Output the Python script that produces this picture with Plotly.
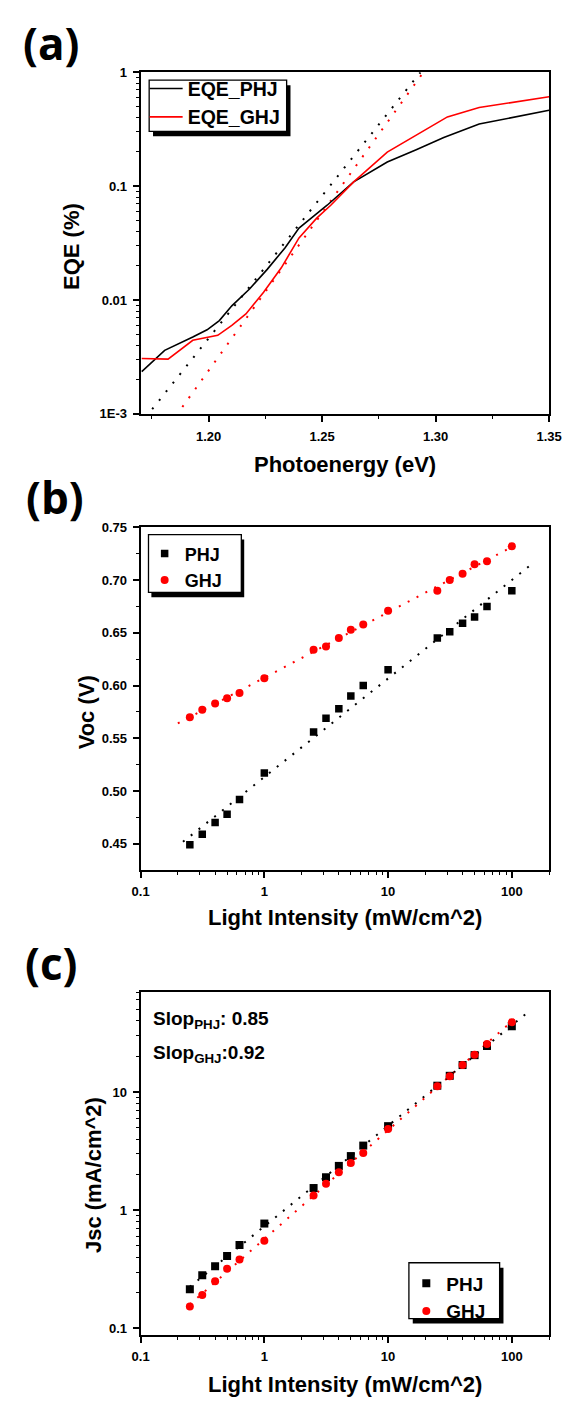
import numpy as np
import plotly.graph_objects as go

W, H = 579, 1407

# ---------------- data ----------------
# (a) EQE spectra
eqe_energy_phj = [1.1705, 1.1806, 1.193, 1.1993, 1.2047, 1.2102, 1.218, 1.2258, 1.2336,
                  1.2398, 1.246, 1.2522, 1.2639, 1.2787, 1.2912, 1.3036, 1.3192, 1.3331, 1.35]
eqe_phj = [0.00235, 0.00362, 0.00473, 0.00548, 0.0066, 0.0089, 0.0125, 0.0186, 0.0287,
           0.0429, 0.054, 0.068, 0.109, 0.163, 0.208, 0.268, 0.351, 0.40, 0.464]
eqe_energy_ghj = [1.1705, 1.1821, 1.193, 1.204, 1.2102, 1.2164, 1.2242, 1.232, 1.2398,
                  1.2476, 1.2538, 1.2639, 1.2787, 1.2912, 1.3052, 1.3192, 1.35]
eqe_ghj = [0.00307, 0.00303, 0.00443, 0.0049, 0.006, 0.00755, 0.0117, 0.0192, 0.0351,
           0.0524, 0.068, 0.109, 0.199, 0.278, 0.406, 0.49, 0.61]
# exponential tail fits (end points)
tail_energy_phj = [1.1751, 1.2933]
tail_eqe_phj = [0.0011, 1.0]
tail_energy_ghj = [1.1884, 1.2946]
tail_eqe_ghj = [0.00115, 1.0]

# (b), (c) light-intensity dependence
intensity = [0.25, 0.315, 0.4, 0.5, 0.63, 1, 2.5, 3.15, 4, 5, 6.3, 10, 25, 31.5, 40, 50, 63, 100]
voc_phj = [0.449, 0.459, 0.470, 0.478, 0.492, 0.517, 0.556, 0.569, 0.578, 0.590, 0.600,
           0.615, 0.645, 0.651, 0.659, 0.665, 0.675, 0.690]
voc_ghj = [0.570, 0.577, 0.583, 0.588, 0.593, 0.607, 0.634, 0.637, 0.645, 0.653, 0.658,
           0.671, 0.690, 0.700, 0.706, 0.715, 0.718, 0.732]
jsc_phj = [0.214, 0.282, 0.335, 0.409, 0.508, 0.771, 1.54, 1.90, 2.37, 2.87, 3.52,
           5.14, 11.3, 13.7, 16.9, 20.5, 24.5, 35.9]
jsc_ghj = [0.153, 0.192, 0.251, 0.32, 0.383, 0.552, 1.33, 1.67, 2.09, 2.51, 3.04,
           4.86, 11.2, 13.6, 16.9, 20.6, 25.5, 38.8]
slope_phj = 0.85
slope_ghj = 0.92
voc_fit_range_phj = [0.22, 140]
voc_fit_range_ghj = [0.2, 100]
jsc_fit_range_phj = [0.25, 130]
jsc_fit_range_ghj = [0.25, 110]

# ---------------- helpers ----------------
def px(x):
    return x / W


def py(y):
    return 1 - y / H


BLACK = "#000000"
RED = "#ff0000"
FONT = "Liberation Sans, Arial, sans-serif"
tick_font = dict(family=FONT, size=13, color=BLACK, weight="bold")


def decade_minors(lo_exp, hi_exp, upper=None):
    vals = []
    for e in range(lo_exp, hi_exp + 1):
        for m in range(2, 10):
            v = m * 10.0 ** e
            if upper is None or v <= upper:
                vals.append(v)
    return vals


def base_axis(**kw):
    d = dict(showline=True, linewidth=2, linecolor=BLACK, mirror=True,
             ticks="outside", ticklen=6, tickwidth=1.5, tickcolor=BLACK,
             showgrid=False, zeroline=False, tickfont=tick_font,
             ticklabelstandoff=3)
    d.update(kw)
    return d


minor_style = dict(ticks="outside", ticklen=3, tickwidth=1.2, tickcolor=BLACK, showgrid=False)

fig = go.Figure()

# ---------------- (a) EQE ----------------
fig.add_trace(go.Scatter(x=tail_energy_phj, y=tail_eqe_phj, mode="lines",
                         line=dict(color=BLACK, width=2, dash="2px,9px"),
                         showlegend=False, xaxis="x", yaxis="y"))
fig.add_trace(go.Scatter(x=tail_energy_ghj, y=tail_eqe_ghj, mode="lines",
                         line=dict(color=RED, width=2, dash="2px,9px"),
                         showlegend=False, xaxis="x", yaxis="y"))
fig.add_trace(go.Scatter(x=eqe_energy_phj, y=eqe_phj, mode="lines", name="EQE_PHJ",
                         line=dict(color=BLACK, width=1.6), xaxis="x", yaxis="y",
                         legend="legend"))
fig.add_trace(go.Scatter(x=eqe_energy_ghj, y=eqe_ghj, mode="lines", name="EQE_GHJ",
                         line=dict(color=RED, width=1.6), xaxis="x", yaxis="y",
                         legend="legend"))

# ---------------- (b) Voc ----------------
lx = np.log10(intensity)
for voc, rng, col in ((voc_phj, voc_fit_range_phj, BLACK), (voc_ghj, voc_fit_range_ghj, RED)):
    k, b = np.polyfit(lx, voc, 1)
    fx = np.array(rng)
    fig.add_trace(go.Scatter(x=fx, y=k * np.log10(fx) + b, mode="lines",
                             line=dict(color=col, width=2, dash="2px,8px"),
                             showlegend=False, xaxis="x2", yaxis="y2"))
fig.add_trace(go.Scatter(x=intensity, y=voc_phj, mode="markers", name="PHJ",
                         marker=dict(symbol="square", size=7.5, color=BLACK),
                         xaxis="x2", yaxis="y2", legend="legend2"))
fig.add_trace(go.Scatter(x=intensity, y=voc_ghj, mode="markers", name="GHJ",
                         marker=dict(symbol="circle", size=8, color=RED),
                         xaxis="x2", yaxis="y2", legend="legend2"))

# ---------------- (c) Jsc ----------------
for jsc, s, rng, col in ((jsc_phj, slope_phj, jsc_fit_range_phj, BLACK),
                         (jsc_ghj, slope_ghj, jsc_fit_range_ghj, RED)):
    b = np.mean(np.log10(jsc) - s * lx)
    fx = np.array(rng)
    fig.add_trace(go.Scatter(x=fx, y=10 ** (b + s * np.log10(fx)), mode="lines",
                             line=dict(color=col, width=2, dash="2px,8px"),
                             showlegend=False, xaxis="x3", yaxis="y3"))
fig.add_trace(go.Scatter(x=intensity, y=jsc_phj, mode="markers", name="PHJ",
                         marker=dict(symbol="square", size=8, color=BLACK),
                         xaxis="x3", yaxis="y3", legend="legend3"))
fig.add_trace(go.Scatter(x=intensity, y=jsc_ghj, mode="markers", name="GHJ",
                         marker=dict(symbol="circle", size=8, color=RED),
                         xaxis="x3", yaxis="y3", legend="legend3"))

# ---------------- axes ----------------
xdom = [px(136.8), px(561.4)]
light_minors = decade_minors(-1, 2, upper=200)

fig.update_layout(
    xaxis=base_axis(domain=xdom, anchor="y", range=[1.17, 1.35], tick0=1.2, dtick=0.05,
                    tickformat=".2f", minor=dict(tick0=1.175, dtick=0.025, **minor_style)),
    yaxis=base_axis(domain=[py(411.3), py(66)], anchor="x", type="log", range=[-3, 0],
                    tickmode="array", tickvals=[0.001, 0.01, 0.1, 1],
                    ticktext=["1E-3", "0.01", "0.1", "1"],
                    minor=dict(tickmode="array", tickvals=decade_minors(-3, -1), **minor_style)),
    xaxis2=base_axis(domain=xdom, anchor="y2", type="log", range=[-1, np.log10(200)],
                     tickmode="array", tickvals=[0.1, 1, 10, 100], ticktext=["0.1", "1", "10", "100"],
                     minor=dict(tickmode="array", tickvals=light_minors, **minor_style)),
    yaxis2=base_axis(domain=[py(872), py(526)], anchor="x2", range=[0.4253, 0.75],
                     tick0=0.45, dtick=0.05, tickformat=".2f",
                     minor=dict(tick0=0.425, dtick=0.025, **minor_style)),
    xaxis3=base_axis(domain=xdom, anchor="y3", type="log", range=[-1, np.log10(200)],
                     tickmode="array", tickvals=[0.1, 1, 10, 100], ticktext=["0.1", "1", "10", "100"],
                     minor=dict(tickmode="array", tickvals=light_minors, **minor_style)),
    yaxis3=base_axis(domain=[py(1342), py(995.7)], anchor="x3", type="log", range=[-1.053, 1.845],
                     tickmode="array", tickvals=[0.1, 1, 10], ticktext=["0.1", "1", "10"],
                     minor=dict(tickmode="array", tickvals=decade_minors(-1, 1, upper=70), **minor_style)),
)

# ---------------- legends (framed boxes with drop shadow) ----------------
def legend_box(x0, y0, x1, y1, dx=4, dy=5):
    return [
        dict(type="rect", xref="paper", yref="paper", x0=px(x0 + dx), x1=px(x1 + dx),
             y0=py(y1 + dy), y1=py(y0 + dy), fillcolor=BLACK, line=dict(width=0)),
        dict(type="rect", xref="paper", yref="paper", x0=px(x0), x1=px(x1),
             y0=py(y1), y1=py(y0), fillcolor="white", line=dict(color=BLACK, width=1.3)),
    ]


shapes = []
shapes += legend_box(145.7, 74, 288.6, 125.7)
shapes += legend_box(145, 533.3, 241.5, 591.7, dx=3, dy=5)
shapes += legend_box(415.7, 1269.3, 510, 1325.7, dx=4, dy=5)

legend_common = dict(bgcolor="rgba(0,0,0,0)", borderwidth=0, xref="paper", yref="paper",
                     xanchor="left", yanchor="top", traceorder="normal", tracegroupgap=0)
fig.update_layout(
    showlegend=True,
    legend=dict(x=px(141), y=py(63), font=dict(family=FONT, size=19.5, color=BLACK, weight="bold"),
                itemwidth=33, **legend_common),
    legend2=dict(x=px(141), y=py(534), font=dict(family=FONT, size=18, color=BLACK, weight="bold"),
                 **legend_common),
    legend3=dict(x=px(413), y=py(1271), font=dict(family=FONT, size=19, color=BLACK, weight="bold"),
                 **legend_common),
    shapes=shapes,
)

# ---------------- text ----------------
title_font = dict(family=FONT, size=22, color=BLACK, weight="bold")
panel_font = dict(family="Open Sans", size=44, color=BLACK, weight="bold")
note_font = dict(family=FONT, size=19, color=BLACK, weight="bold")


def label(text, x, y, font, angle=0, xanchor="center"):
    return dict(text=text, x=px(x), y=py(y), xref="paper", yref="paper", showarrow=False,
                font=font, textangle=angle, xanchor=xanchor, yanchor="middle")


annotations = [
    label("(a)", 44, 36, panel_font),
    label("(b)", 48, 495, panel_font),
    label("(c)", 44, 966, panel_font),
    label("Photoenergy (eV)", 349, 462, title_font),
    label("EQE (%)", 65, 242, title_font, angle=-90),
    label("Light Intensity (mW/cm^2)", 349, 920, title_font),
    label("Voc (V)", 80, 713, title_font, angle=-90),
    label("Light Intensity (mW/cm^2)", 349, 1392, title_font),
    label("Jsc (mA/cm^2)", 88, 1181, title_font, angle=-90),
    label("Slop<sub>PHJ</sub>: 0.85", 148, 1024, note_font, xanchor="left"),
    label("Slop<sub>GHJ</sub>:0.92", 148, 1058, note_font, xanchor="left"),
]

fig.update_layout(
    annotations=annotations,
    width=W, height=H, autosize=False,
    margin=dict(l=0, r=0, t=0, b=0),
    paper_bgcolor="white", plot_bgcolor="white",
)

fig.write_html("out.html")
